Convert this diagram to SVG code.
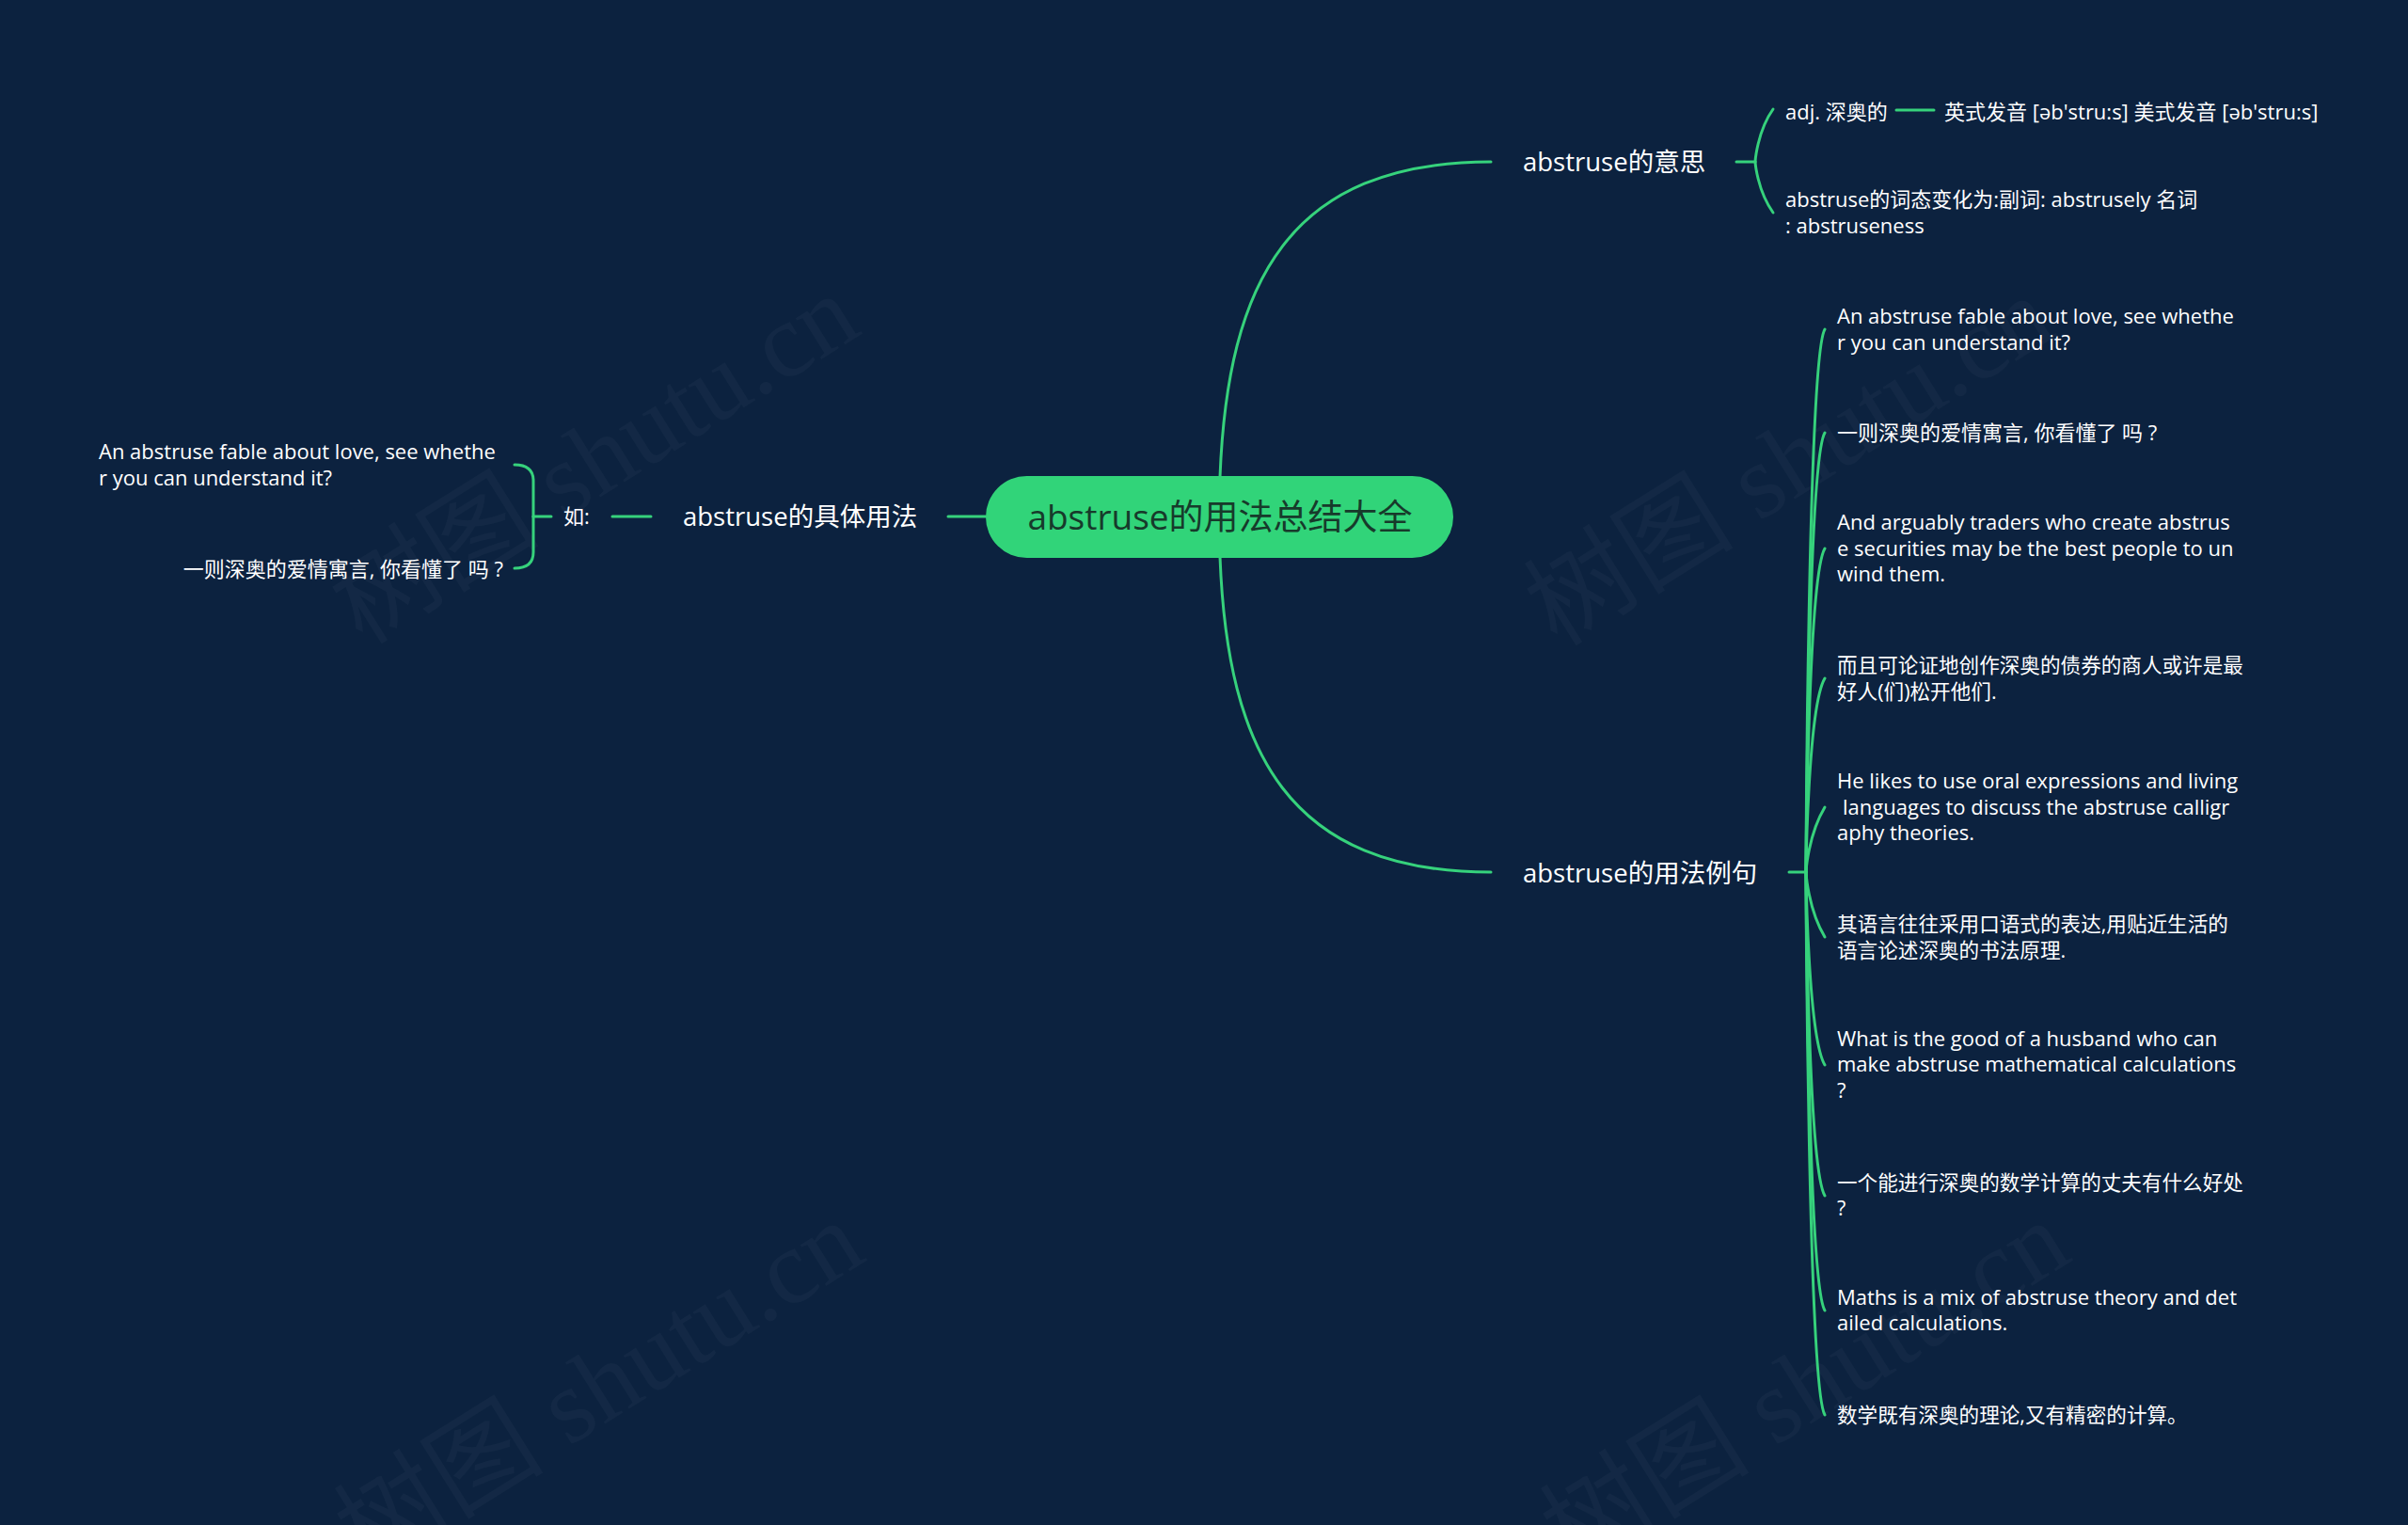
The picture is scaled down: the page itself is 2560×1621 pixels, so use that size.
<svg xmlns="http://www.w3.org/2000/svg" width="2560" height="1621" viewBox="0 0 2560 1621">
<style>
.t{font-family:"Open Sans","Noto Sans CJK SC",sans-serif;fill:#ffffff}
.leaf{font-size:22px}
.cjk{font-size:21.6px}
.main{font-size:27.5px}
.root{font-family:"Open Sans","Noto Sans CJK SC",sans-serif;font-size:37px;fill:#173a2b}
.ln{fill:none;stroke:#36d27c;stroke-width:3;stroke-linecap:round}
.wm{font-family:"Liberation Serif","Noto Sans CJK SC",serif;font-size:112px;fill:#ffffff;fill-opacity:0.03}
</style>
<rect x="0" y="0" width="2560" height="1621" fill="#0c223f"/>
<g id="watermarks">
<text class="wm" text-anchor="middle" transform="translate(652,520) rotate(-32)">树图 shutu.cn</text>
<text class="wm" text-anchor="middle" transform="translate(1922,522) rotate(-32)">树图 shutu.cn</text>
<text class="wm" text-anchor="middle" transform="translate(657,1505) rotate(-32)">树图 shutu.cn</text>
<text class="wm" text-anchor="middle" transform="translate(1939,1505) rotate(-32)">树图 shutu.cn</text>
</g>
<g id="connectors">
<path class="ln" d="M1297,507 C1305,300 1370,172 1585,172"/>
<path class="ln" d="M1297,592 C1305,800 1370,927 1585,927"/>
<path class="ln" d="M1048,549 H1008"/>
<path class="ln" d="M692,549 H651"/>
<path class="ln" d="M586,549 H567"/>
<path class="ln" d="M567,549 V511 Q567,494 547,494"/>
<path class="ln" d="M567,549 V587 Q567,604 547,604"/>
<path class="ln" d="M1846,172 H1866"/>
<path class="ln" d="M1866,172 C1866,172 1868,140 1885,116"/>
<path class="ln" d="M1866,172 C1866,172 1868,202 1885,226"/>
<path class="ln" d="M2016,117 H2056"/>
<path class="ln" d="M1902,927 H1920"/>
<path class="ln" d="M1920,927 C1920,927 1922,380 1940,350"/>
<path class="ln" d="M1920,927 C1920,927 1922,490 1940,460"/>
<path class="ln" d="M1920,927 C1920,927 1922,613 1940,583"/>
<path class="ln" d="M1920,927 C1920,927 1922,751 1940,721"/>
<path class="ln" d="M1920,927 C1920,927 1922,888 1940,858"/>
<path class="ln" d="M1920,927 C1920,927 1922,966 1940,996"/>
<path class="ln" d="M1920,927 C1920,927 1922,1102 1940,1132"/>
<path class="ln" d="M1920,927 C1920,927 1922,1241 1940,1271"/>
<path class="ln" d="M1920,927 C1920,927 1922,1363 1940,1393"/>
<path class="ln" d="M1920,927 C1920,927 1922,1474 1940,1504"/>
</g>
<g id="root">
<rect x="1048" y="506" width="497" height="87" rx="43.5" fill="#31d479"/>
<text class="root" x="1297" y="563" text-anchor="middle">abstruse的用法总结大全</text>
</g>
<g id="n-meaning"><text class="t main" x="1619" y="182">abstruse的意思</text></g>
<g id="n-adj"><text class="t leaf" x="1898" y="127">adj. 深奥的</text></g>
<g id="n-pron"><text class="t leaf" x="2067" y="127">英式发音 [əb'stru:s] 美式发音 [əb'stru:s]</text></g>
<g id="n-forms"><text class="t leaf" x="1898" y="220">abstruse的词态变化为:副词: abstrusely 名词<tspan x="1898" y="248">: abstruseness</tspan></text></g>
<g id="n-usage"><text class="t main" x="726" y="559">abstruse的具体用法</text></g>
<g id="n-ru"><text class="t leaf" x="599" y="557">如:</text></g>
<g id="n-l1"><text class="t leaf" x="105" y="488">An abstruse fable about love, see whethe<tspan x="105" y="516">r you can understand it?</tspan></text></g>
<g id="n-l2"><text class="t leaf" x="535" y="613" text-anchor="end">一则深奥的爱情寓言, 你看懂了 吗 ?</text></g>
<g id="n-examples"><text class="t main" x="1619" y="938">abstruse的用法例句</text></g>
<g id="n-r1"><text class="t leaf" x="1953" y="344">An abstruse fable about love, see whethe<tspan x="1953" y="372">r you can understand it?</tspan></text></g>
<g id="n-r2"><text class="t leaf" x="1953" y="468">一则深奥的爱情寓言, 你看懂了 吗 ?</text></g>
<g id="n-r3"><text class="t leaf" x="1953" y="563">And arguably traders who create abstrus<tspan x="1953" y="591">e securities may be the best people to un</tspan><tspan x="1953" y="618">wind them.</tspan></text></g>
<g id="n-r4"><text class="t cjk" x="1953" y="715">而且可论证地创作深奥的债券的商人或许是最<tspan x="1953" y="743">好人(们)松开他们.</tspan></text></g>
<g id="n-r5"><text class="t leaf" x="1953" y="838">He likes to use oral expressions and living<tspan x="1959" y="866">languages to discuss the abstruse calligr</tspan><tspan x="1953" y="893">aphy theories.</tspan></text></g>
<g id="n-r6"><text class="t cjk" x="1953" y="990">其语言往往采用口语式的表达,用贴近生活的<tspan x="1953" y="1018">语言论述深奥的书法原理.</tspan></text></g>
<g id="n-r7"><text class="t leaf" x="1953" y="1112">What is the good of a husband who can<tspan x="1953" y="1139">make abstruse mathematical calculations</tspan><tspan x="1953" y="1167">?</tspan></text></g>
<g id="n-r8"><text class="t cjk" x="1953" y="1265">一个能进行深奥的数学计算的丈夫有什么好处<tspan x="1953" y="1292">?</tspan></text></g>
<g id="n-r9"><text class="t leaf" x="1953" y="1387">Maths is a mix of abstruse theory and det<tspan x="1953" y="1414">ailed calculations.</tspan></text></g>
<g id="n-r10"><text class="t cjk" x="1953" y="1512">数学既有深奥的理论,又有精密的计算。</text></g>
</svg>
